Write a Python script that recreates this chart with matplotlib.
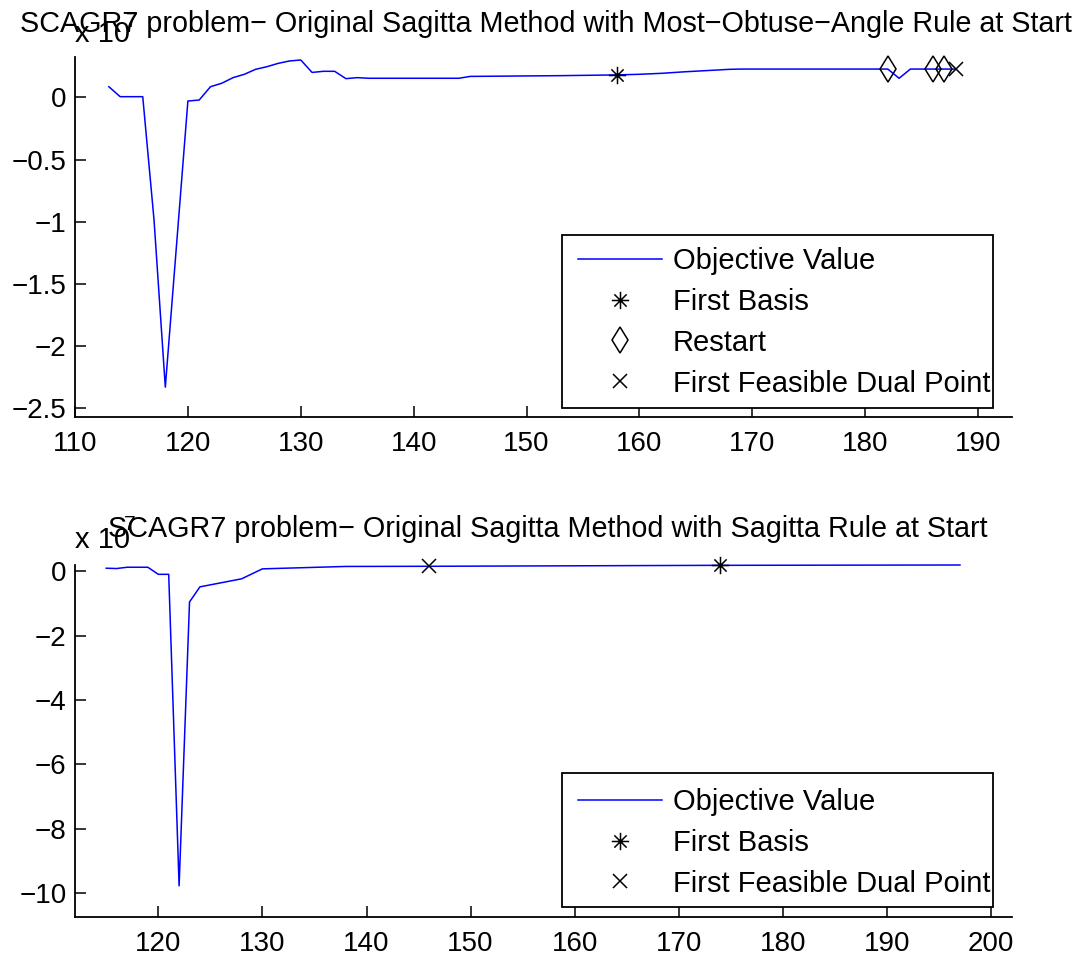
import numpy as np
import matplotlib
matplotlib.use('Agg')
import matplotlib.pyplot as plt
from matplotlib.path import Path
from matplotlib.patches import Rectangle
from matplotlib.ticker import FuncFormatter

plt.rcParams['font.family'] = ['Liberation Sans', 'DejaVu Sans']
plt.rcParams['axes.unicode_minus'] = True

# objective value (x 10^7) against iteration, most-obtuse-angle start
top_iter = [113, 114, 116, 117, 118, 120, 121, 122, 123, 124, 125, 126, 127, 128, 129, 130,
            131, 132, 133, 134, 135, 136, 144, 145, 153, 158, 160, 162, 164, 166, 168, 169,
            182, 183, 184, 188]
top_obj = [0.085, 0.005, 0.005, -0.985, -2.33, -0.03, -0.022, 0.085, 0.113, 0.158, 0.185, 0.225,
           0.246, 0.273, 0.292, 0.30, 0.20, 0.209, 0.209, 0.15, 0.158, 0.153, 0.153, 0.168,
           0.174, 0.18, 0.185, 0.193, 0.205, 0.215, 0.225, 0.227, 0.227, 0.153, 0.227, 0.227]
top_basis_x, top_basis_y = [158], [0.18]
top_restart_x, top_restart_y = [182, 186, 187], [0.227, 0.227, 0.227]
top_dual_x, top_dual_y = [188], [0.227]

# sagitta rule start
bot_iter = [115, 116, 117, 119, 120, 121, 122, 123, 124, 128, 130, 138, 146, 174, 197]
bot_obj = [0.10, 0.09, 0.13, 0.13, -0.09, -0.09, -9.78, -0.95, -0.48, -0.23, 0.08, 0.155,
           0.16, 0.19, 0.2]
bot_basis_x, bot_basis_y = [174], [0.19]
bot_dual_x, bot_dual_y = [146], [0.16]

title_top = 'SCAGR7 problem\u2212 Original Sagitta Method with Most\u2212Obtuse\u2212Angle Rule at Start'
title_bot = 'SCAGR7 problem\u2212 Original Sagitta Method with Sagitta Rule at Start'

# asterisk marker like matlab's '*'
d = np.sqrt(0.5)
star = Path([(-1, 0), (1, 0), (0, -1), (0, 1), (-d, -d), (d, d), (-d, d), (d, -d)],
            [Path.MOVETO, Path.LINETO] * 4)

W, H = 1084, 968
fs_tick = 20
fs_text = 21
fs_title = 20.7
blue = '#0000ff'


def px(x, y):
    # pixel position (from top-left) -> figure fraction
    return x / W, 1 - y / H


def fmt(v, pos):
    return ('%g' % v).replace('-', '\u2212')


def style_axes(ax, xlim, ylim, yticks):
    ax.set_xlim(xlim)
    ax.set_ylim(ylim)
    ax.set_yticks(yticks)
    ax.yaxis.set_major_formatter(FuncFormatter(fmt))
    for sp in ['top', 'right']:
        ax.spines[sp].set_visible(False)
    for sp in ['left', 'bottom']:
        ax.spines[sp].set_linewidth(1.3)
    ax.tick_params(direction='in', length=8, width=1.1, labelsize=fs_tick)
    ax.tick_params(axis='x', pad=10)
    ax.tick_params(axis='y', pad=6)


def legend_box(ax, x0, y0, x1, y1, first_row):
    # square legend frame drawn as a patch, entries placed inside it
    ax.add_patch(Rectangle(px(x0, y1), (x1 - x0) / W, (y1 - y0) / H, transform=fig.transFigure,
                           facecolor='white', edgecolor='k', lw=1.3, clip_on=False, zorder=4))
    ax.legend(loc='upper left', bbox_to_anchor=px(578, first_row),
              bbox_transform=fig.transFigure, fontsize=fs_text, frameon=False,
              handlelength=2.88, handletextpad=0.38, labelspacing=0.44, borderpad=0,
              borderaxespad=0)


fig = plt.figure(figsize=(W / 100, H / 100), dpi=100)
ax1 = fig.add_axes([75 / W, 1 - 417 / H, 937 / W, 360 / H])
ax2 = fig.add_axes([75 / W, 1 - 917 / H, 937 / W, 352 / H])

ax1.plot(top_iter, top_obj, color=blue, lw=1.1, label='Objective Value', clip_on=False)
ax1.plot(top_basis_x, top_basis_y, ls='none', marker=star, ms=12.5, mew=1.1, color='k',
         fillstyle='none', label='First Basis', clip_on=False)
ax1.plot(top_restart_x, top_restart_y, ls='none', marker='d', ms=13.7, mew=1.1, mfc='none',
         mec='k', label='Restart', clip_on=False)
ax1.plot(top_dual_x, top_dual_y, ls='none', marker='x', ms=9.5, mew=1.1, color='k',
         label='First Feasible Dual Point', clip_on=False)
style_axes(ax1, (110, 193), (-2.57, 0.324), [-2.5, -2, -1.5, -1, -0.5, 0])
ax1.set_xticks(np.arange(110, 191, 10))
fig.text(*px(546, 32), title_top, fontsize=fs_title, ha='center', va='baseline')
fig.text(*px(75, 42), 'x 10', fontsize=fs_text, ha='left', va='baseline')
fig.text(*px(126, 27), '7', fontsize=fs_text * 0.72, ha='left', va='baseline')
legend_box(ax1, 562, 235, 993, 408, 247)

ax2.plot(bot_iter, bot_obj, color=blue, lw=1.1, label='Objective Value', clip_on=False)
ax2.plot(bot_basis_x, bot_basis_y, ls='none', marker=star, ms=12.5, mew=1.1, color='k',
         fillstyle='none', label='First Basis', clip_on=False)
ax2.plot(bot_dual_x, bot_dual_y, ls='none', marker='x', ms=9.5, mew=1.1, color='k',
         label='First Feasible Dual Point', clip_on=False)
style_axes(ax2, (112, 202), (-10.75, 0.2), [-10, -8, -6, -4, -2, 0])
ax2.set_xticks(np.arange(120, 201, 10))
fig.text(*px(548, 537), title_bot, fontsize=fs_title, ha='center', va='baseline')
fig.text(*px(75, 548), 'x 10', fontsize=fs_text, ha='left', va='baseline')
fig.text(*px(124, 530), '7', fontsize=fs_text * 0.72, ha='left', va='baseline')
legend_box(ax2, 562, 773, 993, 907, 788)

fig.savefig('out.png', dpi=100)
